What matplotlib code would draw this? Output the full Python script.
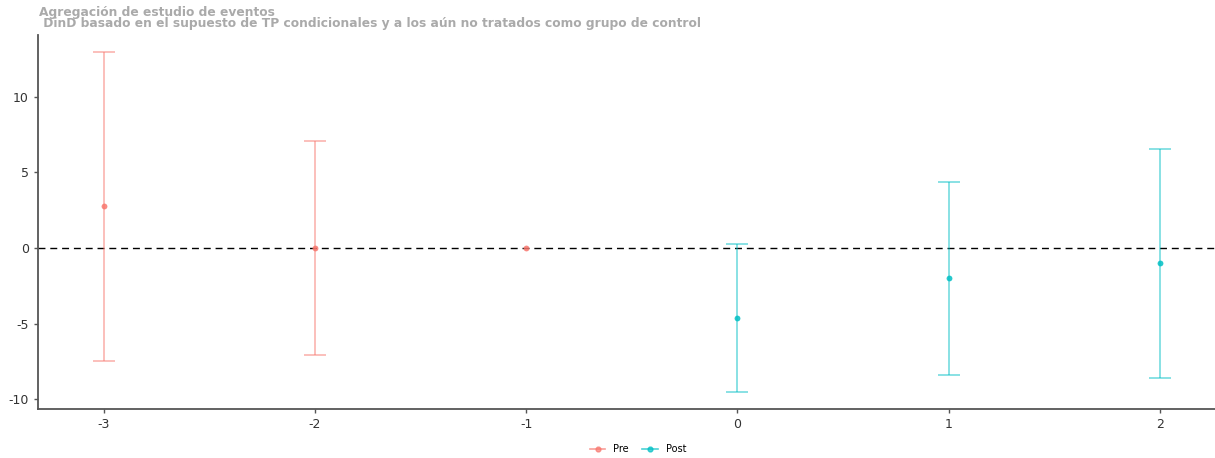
import matplotlib
matplotlib.use("Agg")
import matplotlib.pyplot as plt
from matplotlib.lines import Line2D

plt.rcParams['font.family'] = ['DejaVu Sans']

# Data
event_time = [-3, -2, -1, 0, 1, 2]
att = [2.78, 0.0, 0.0, -4.64, -1.99, -0.99]
ci_lower = [-7.48, -7.09, None, -9.54, -8.41, -8.61]
ci_upper = [12.98, 7.09, None, 0.26, 4.37, 6.56]
period = ["Pre", "Pre", "Pre", "Post", "Post", "Post"]
colors = {"Pre": "#F8766D", "Post": "#00BFC4"}
title = "Agregación de estudio de eventos"
subtitle = " DinD basado en el supuesto de TP condicionales y a los aún no tratados como grupo de control"

fig = plt.figure(figsize=(12.15, 4.58), dpi=100)
ax = fig.add_axes([38/1215, 1 - 409/458, 1 - 38/1215, (409 - 35)/458])

ax.axhline(0, color="black", linestyle=(0, (5, 3.5)), linewidth=1.0, zorder=1)

for x, y, lo, hi, p in zip(event_time, att, ci_lower, ci_upper, period):
    c = colors[p]
    if lo is not None:
        ax.errorbar([x], [y], yerr=[[y - lo], [hi - y]], fmt='none', ecolor=c,
                    elinewidth=1.3, capsize=8.0, capthick=1.3, alpha=0.5, zorder=2)
    ax.plot([x], [y], 'o', color=c, markersize=4.2, alpha=0.85, zorder=3, markeredgewidth=0)

ax.set_xlim(-3.31, 2.26)
ax.set_ylim(-10.66, 14.1)
ax.set_xticks(event_time)
ax.set_xticklabels([str(v) for v in event_time])
ax.set_yticks([-10, -5, 0, 5, 10])
ax.set_yticklabels(["-10", "-5", "0", "5", "10"])

for s in ["top", "right"]:
    ax.spines[s].set_visible(False)
for s in ["left", "bottom"]:
    ax.spines[s].set_color("#555555")
    ax.spines[s].set_linewidth(1.3)
ax.tick_params(axis="both", colors="#555555", length=3, width=1, labelsize=9, labelcolor="#333333")

fig.text(39/1215, 1 - 12.5/458, title, fontsize=8.8, fontweight="bold", color="#aaaaaa", va="center", ha="left")
fig.text(39/1215, 1 - 23.5/458, subtitle, fontsize=8.8, fontweight="bold", color="#aaaaaa", va="center", ha="left")

handles = [Line2D([0], [0], color=colors[k], marker='o', markersize=3.5, linewidth=1.2, alpha=0.7, label=k)
           for k in ["Pre", "Post"]]
fig.legend(handles=handles, loc="center", bbox_to_anchor=(638/1215, 1 - 449/458), ncol=2, frameon=False,
           fontsize=7, handlelength=1.6, columnspacing=1.4, handletextpad=0.8)

fig.savefig("out.png", dpi=100)
